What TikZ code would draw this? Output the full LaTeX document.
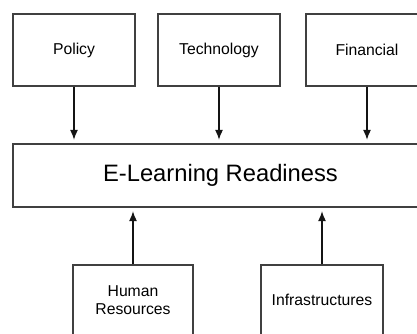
\documentclass[tikz,border=0pt]{standalone}
\usepackage{fontspec}
\setmainfont{Liberation Sans}
\usetikzlibrary{arrows.meta}

\tikzset{
  factor/.style={draw={rgb,255:red,64;green,64;blue,64},line width=1.1pt,inner sep=0pt,
    minimum width=91.5pt,minimum height=54pt,align=center,font=\fontsize{11.8}{13.6}\selectfont},
  link/.style={draw={rgb,255:red,20;green,20;blue,20},line width=1.1pt,
    -{Latex[length=7.5pt,width=6pt]},shorten >=2.5pt}
}

\begin{document}
\begin{tikzpicture}[x=0.75pt,y=0.75pt,yscale=-1]
\useasboundingbox (0,0) rectangle (417,334);

% Top factors
\node [factor] (pol) at (74,50) {Policy};
\node [factor] (tech) at (219,50) {Technology};
\node [factor] (fin) at (367,50) {Financial};

% Readiness
\node [factor,minimum width=311.25pt,minimum height=47.25pt,font=\fontsize{17.8}{20}\selectfont] (ready) at (220.5,175.5) {E-Learning Readiness};

% Bottom factors
\node [factor,minimum width=90pt,minimum height=52.5pt] (hr) at (133,300) {Human\\Resources};
\node [factor,minimum height=52.5pt] (infra) at (322,300) {Infrastructures};

% Arrows
\draw [link] (pol.south) -- (pol.south |- ready.north);
\draw [link] (tech.south) -- (tech.south |- ready.north);
\draw [link] (fin.south) -- (fin.south |- ready.north);
\draw [link] (hr.north) -- (hr.north |- ready.south);
\draw [link] (infra.north) -- (infra.north |- ready.south);

\end{tikzpicture}
\end{document}
